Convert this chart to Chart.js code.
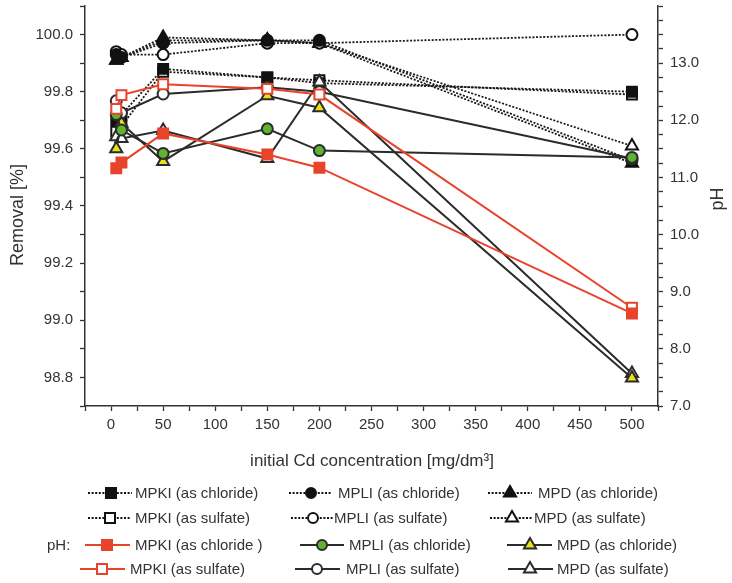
<!DOCTYPE html>
<html><head><meta charset="utf-8">
<script src="https://cdn.jsdelivr.net/npm/chart.js@4/dist/chart.umd.min.js"></script>
<style>
html,body{margin:0;padding:0;background:#fff;}
#wrap{position:relative;width:732px;height:583px;font-family:"Liberation Sans",Arial,sans-serif;color:#333;overflow:hidden;}
#c{position:absolute;left:0;top:-3px;}
.lg{position:absolute;font-size:15px;line-height:18px;white-space:nowrap;color:#333;}
#lgsvg{position:absolute;left:0;top:0;}
</style></head><body>
<div id="wrap"><canvas id="c" width="732" height="481"></canvas><svg id="lgsvg" width="732" height="583"></svg><div id="legend"></div></div>
<script>
// ---- data ----
const concentrations = [5, 10, 50, 150, 200, 500];
// Removal [%] (left axis)
const removalMPKIChloride = [99.70, 99.72, 99.88, 99.85, 99.83, 99.80];
const removalMPKISulfate  = [99.66, 99.68, 99.87, 99.85, 99.84, 99.79];
const removalMPLIChloride = [99.93, 99.92, 99.97, 99.98, 99.98, 99.56];
const removalMPLISulfate  = [99.94, 99.93, 99.93, 99.97, 99.97, 100.00];
const removalMPDChloride  = [99.91, 99.92, 99.99, 99.98, 99.97, 99.55];
const removalMPDSulfate   = [99.91, 99.92, 99.98, 99.98, 99.97, 99.61];
// pH (right axis)
const phMPKIChloride = [11.16, 11.26, 11.77, 11.40, 11.17, 8.62];
const phMPKISulfate  = [12.20, 12.44, 12.63, 12.55, 12.45, 8.72];
const phMPLIChloride = [12.10, 11.83, 11.42, 11.85, 11.47, 11.35];
const phMPLISulfate  = [12.34, 12.13, 12.46, 12.58, 12.50, 11.33];
const phMPDChloride  = [11.50, 11.95, 11.28, 12.43, 12.22, 7.49];
const phMPDSulfate   = [11.71, 11.68, 11.82, 11.33, 12.67, 7.57];
// axis ticks
const xTickLabels = [0, 50, 100, 150, 200, 250, 300, 350, 400, 450, 500];
const removalTickLabels = [98.8, 99.0, 99.2, 99.4, 99.6, 99.8, 100.0];
const phTickLabels = [7, 8, 9, 10, 11, 12, 13];
const labels = {
  xTitle: 'initial Cd concentration [mg/dm³]',
  yTitle: 'Removal [%]',
  y1Title: 'pH'
};

// ---- styles ----
const RED = '#e8432b', DARK = '#2b2b2b', GREEN = '#5fb332', YELLOW = '#e8e21a';
const shapeRadius = {rect: 7, circle: 5.5, triangle: 7};

function pts(arr){ return concentrations.map((x,i)=>({x:x, y:arr[i]})); }
function removalDs(label, arr, shape, filled){
  return {label, data: pts(arr), yAxisID:'y', borderColor:'#1a1a1a', borderWidth:1.8, borderDash:[2,1.6],
    pointStyle: shape, pointRadius: shapeRadius[shape], pointBorderWidth:2,
    pointBackgroundColor: filled ? '#111' : '#fff', pointBorderColor:'#111', tension:0, order:2};
}
function phDs(label, arr, shape, line, fill){
  return {label, data: pts(arr), yAxisID:'y1', borderColor: line, borderWidth:2,
    pointStyle: shape, pointRadius: shapeRadius[shape], pointBorderWidth:2,
    pointBackgroundColor: fill, pointBorderColor: line, tension:0, order:1};
}
const datasets = [
  phDs('pH: MPKI (as chloride )', phMPKIChloride, 'rect', RED, RED),
  phDs('pH: MPKI (as sulfate)', phMPKISulfate, 'rect', RED, '#fff'),
  phDs('pH: MPLI (as chloride)', phMPLIChloride, 'circle', DARK, GREEN),
  phDs('pH: MPLI (as sulfate)', phMPLISulfate, 'circle', DARK, '#fff'),
  phDs('pH: MPD (as chloride)', phMPDChloride, 'triangle', DARK, YELLOW),
  phDs('pH: MPD (as sulfate)', phMPDSulfate, 'triangle', DARK, '#fff'),
  removalDs('MPKI (as chloride)', removalMPKIChloride, 'rect', true),
  removalDs('MPKI (as sulfate)', removalMPKISulfate, 'rect', false),
  removalDs('MPLI (as chloride)', removalMPLIChloride, 'circle', true),
  removalDs('MPLI (as sulfate)', removalMPLISulfate, 'circle', false),
  removalDs('MPD (as chloride)', removalMPDChloride, 'triangle', true),
  removalDs('MPD (as sulfate)', removalMPDSulfate, 'triangle', false)
];

const tickFont = {family:'"Liberation Sans", Arial, sans-serif', size:15};
const axisGrid = {drawOnChartArea:false, drawTicks:true, tickLength:5, color:'#333', tickWidth:1.3};
const axisBorder = {display:true, color:'#333', width:1.5};
const CANVAS_SHIFT = 3; // canvas is placed 3px above the page top

const titlePlugin = {
  id:'titles',
  afterDraw(chart){
    const ctx = chart.ctx;
    ctx.save();
    ctx.fillStyle = '#333';
    ctx.textAlign = 'center'; ctx.textBaseline = 'middle';
    ctx.font = '17px "Liberation Sans", Arial, sans-serif';
    ctx.fillText(labels.xTitle, 372, 461 + CANVAS_SHIFT);
    ctx.font = '18px "Liberation Sans", Arial, sans-serif';
    ctx.translate(18, 215 + CANVAS_SHIFT); ctx.rotate(-Math.PI/2); ctx.fillText(labels.yTitle, 0, 0);
    ctx.restore();
    ctx.save();
    ctx.fillStyle = '#333';
    ctx.textAlign = 'center'; ctx.textBaseline = 'middle';
    ctx.font = '18px "Liberation Sans", Arial, sans-serif';
    ctx.translate(718, 199 + CANVAS_SHIFT); ctx.rotate(-Math.PI/2); ctx.fillText(labels.y1Title, 0, 0);
    ctx.restore();
  }
};

function fitVertical(w){ return s=>{ s.width=w; s.paddingTop=0; s.paddingBottom=0; }; }

new Chart(document.getElementById('c'), {
  type:'line',
  data:{datasets},
  plugins:[titlePlugin],
  options:{
    responsive:false, animation:false, devicePixelRatio:1,
    layout:{padding:{top:2,left:0,right:0,bottom:0}},
    plugins:{legend:{display:false}, tooltip:{enabled:false}},
    scales:{
      x:{type:'linear', min:-25, max:525,
        ticks:{stepSize:25, autoSkip:false, maxRotation:0, font:tickFont, color:'#333', padding:5,
          callback:v=> xTickLabels.includes(v) ? String(v) : ''},
        grid:axisGrid, border:axisBorder,
        afterFit:s=>{s.height=72; s.paddingLeft=0; s.paddingRight=0;}},
      y:{type:'linear', position:'left', min:98.7, max:100.1,
        ticks:{stepSize:0.1, autoSkip:false, font:tickFont, color:'#333', padding:7,
          callback:v=>{const r=Math.round(v*10)/10; return removalTickLabels.some(t=>Math.abs(t-r)<1e-6) ? r.toFixed(1) : '';}},
        grid:axisGrid, border:axisBorder,
        afterFit:fitVertical(85)},
      y1:{type:'linear', position:'right', min:7, max:14,
        ticks:{stepSize:0.25, autoSkip:false, font:tickFont, color:'#333', padding:7,
          callback:v=> phTickLabels.includes(v) ? v.toFixed(1) : ''},
        grid:axisGrid, border:axisBorder,
        afterFit:fitVertical(74)}
    }
  }
});

// ---- legend ----
const legendEntries = [
  {y:493, sx:88,  ex:132, mx:111, tx:135, dash:true,  shape:'rect',     line:'#111', fill:'#111', text:'MPKI (as chloride)'},
  {y:493, sx:289, ex:332, mx:311, tx:338, dash:true,  shape:'circle',   line:'#111', fill:'#111', text:'MPLI (as chloride)'},
  {y:493, sx:488, ex:532, mx:510, tx:538, dash:true,  shape:'triangle', line:'#111', fill:'#111', text:'MPD (as chloride)'},
  {y:518, sx:88,  ex:131, mx:110, tx:135, dash:true,  shape:'rect',     line:'#111', fill:'#fff', text:'MPKI (as sulfate)'},
  {y:518, sx:291, ex:333, mx:313, tx:334, dash:true,  shape:'circle',   line:'#111', fill:'#fff', text:'MPLI (as sulfate)'},
  {y:518, sx:490, ex:532, mx:512, tx:534, dash:true,  shape:'triangle', line:'#111', fill:'#fff', text:'MPD (as sulfate)'},
  {y:545, sx:85,  ex:130, mx:107, tx:135, dash:false, shape:'rect',     line:RED,  fill:RED,    text:'MPKI (as chloride )'},
  {y:545, sx:300, ex:344, mx:322, tx:349, dash:false, shape:'circle',   line:DARK, fill:GREEN,  text:'MPLI (as chloride)'},
  {y:545, sx:507, ex:552, mx:530, tx:557, dash:false, shape:'triangle', line:DARK, fill:YELLOW, text:'MPD (as chloride)'},
  {y:569, sx:80,  ex:125, mx:102, tx:130, dash:false, shape:'rect',     line:RED,  fill:'#fff', text:'MPKI (as sulfate)'},
  {y:569, sx:295, ex:340, mx:317, tx:346, dash:false, shape:'circle',   line:DARK, fill:'#fff', text:'MPLI (as sulfate)'},
  {y:569, sx:508, ex:553, mx:530, tx:557, dash:false, shape:'triangle', line:DARK, fill:'#fff', text:'MPD (as sulfate)'}
];
const svg = document.getElementById('lgsvg');
const legendDiv = document.getElementById('legend');
const NS = 'http://www.w3.org/2000/svg';
function el(tag, attrs){ const e=document.createElementNS(NS,tag); for(const k in attrs) e.setAttribute(k,attrs[k]); svg.appendChild(e); return e; }
legendEntries.forEach(e=>{
  el('line',{x1:e.sx,y1:e.y,x2:e.ex,y2:e.y,stroke:e.line,'stroke-width':e.dash?1.8:2,'stroke-dasharray':e.dash?'2,1.6':'none'});
  const sw=2;
  if(e.shape==='rect') el('rect',{x:e.mx-5,y:e.y-5,width:10,height:10,fill:e.fill,stroke:e.line,'stroke-width':sw});
  else if(e.shape==='circle') el('circle',{cx:e.mx,cy:e.y,r:5,fill:e.fill,stroke:e.line,'stroke-width':sw});
  else { const r=7; el('polygon',{points:`${e.mx},${e.y-r} ${e.mx+r*0.866},${e.y+r/2} ${e.mx-r*0.866},${e.y+r/2}`,fill:e.fill,stroke:e.line,'stroke-width':sw,'stroke-linejoin':'miter'}); }
  const d=document.createElement('div'); d.className='lg'; d.style.left=e.tx+'px'; d.style.top=(e.y-9)+'px'; d.textContent=e.text; legendDiv.appendChild(d);
});
const ph=document.createElement('div'); ph.className='lg'; ph.style.left='47px'; ph.style.top=(545-9)+'px'; ph.textContent='pH:'; legendDiv.appendChild(ph);
</script>
</body></html>
